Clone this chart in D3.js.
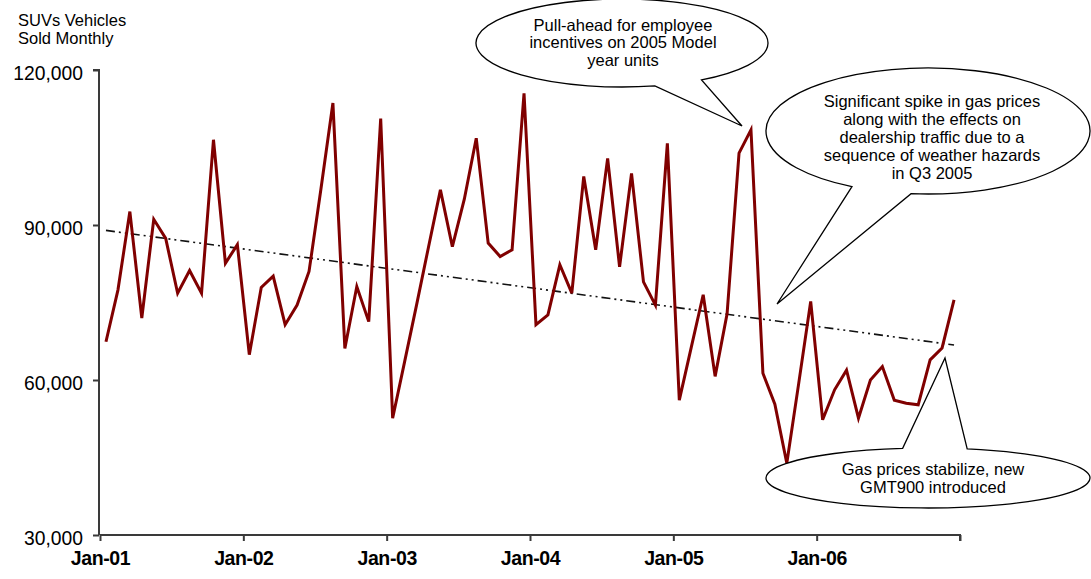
<!DOCTYPE html>
<html>
<head>
<meta charset="utf-8">
<script src="https://cdn.jsdelivr.net/npm/d3@7"></script>
<style>
  html, body { margin: 0; padding: 0; background: #fff; }
  svg { display: block; }
  text { font-family: "Liberation Sans", Arial, sans-serif; fill: #000; }
</style>
</head>
<body>
<svg id="chart" width="1091" height="579"></svg>
<script>
// Monthly SUV sales, Jan 2001 – Dec 2006
const years = ["01", "02", "03", "04", "05", "06"];
const tickLabels = ["Jan-01", "Jan-02", "Jan-03", "Jan-04", "Jan-05", "Jan-06", ""];
const yTicks = [30000, 60000, 90000, 120000];

const sales2001 = [67400, 77400, 92600, 72000, 91100, 87400, 76800, 81200, 76800, 106500, 82600, 86200];
const sales2002 = [64900, 77900, 80100, 70700, 74500, 81000, 97000, 113600, 66100, 78100, 71300, 110600];
const sales2003 = [52600, 63500, 74500, 85700, 96800, 85800, 95000, 106800, 86500, 83900, 85200, 115500];
const sales2004 = [70700, 72600, 82300, 76800, 99400, 85200, 102900, 81900, 100000, 79000, 74500, 105800];
const sales2005 = [56100, 66300, 76500, 60700, 72800, 103900, 108400, 61300, 55300, 43900, 59400, 75200];
const sales2006 = [52300, 58100, 61900, 52600, 60000, 62600, 56100, 55500, 55200, 63900, 66200, 75500];

const sales = [].concat(sales2001, sales2002, sales2003, sales2004, sales2005, sales2006);

const svg = d3.select("#chart");

const x = d3.scaleLinear().domain([0, sales.length]).range([100, 960]);
const y = d3.scaleLinear().domain([30000, 120000]).range([535, 70]);
const px = i => x(i + 0.5);

// axis title
const title = svg.append("text").attr("x", 18).attr("font-size", 16.5);
title.append("tspan").attr("x", 18).attr("y", 26).text("SUVs Vehicles");
title.append("tspan").attr("x", 18).attr("y", 44).text("Sold Monthly");

// y axis
const yAxis = svg.append("g")
  .attr("transform", "translate(99,0)")
  .call(d3.axisLeft(y).tickValues(yTicks).tickFormat(d3.format(",")).tickSize(6).tickPadding(10));
yAxis.selectAll("path, line").attr("stroke", "#3a3a3a").attr("stroke-width", 2);
yAxis.select(".domain").attr("d", "M-6,70H0V535");
yAxis.selectAll("text")
  .attr("font-size", 19.3).attr("font-family", "Liberation Sans, Arial, sans-serif")
  .attr("fill", "#000").attr("dy", "0.47em");

// x axis
const xAxis = svg.append("g")
  .attr("transform", "translate(0,535)")
  .call(d3.axisBottom(x).tickValues(d3.range(0, sales.length + 1, 12))
    .tickFormat((d, i) => tickLabels[i]).tickSize(6).tickPadding(20));
xAxis.selectAll("path, line").attr("stroke", "#3a3a3a").attr("stroke-width", 2);
xAxis.select(".domain").attr("d", "M100,0H960V6");
xAxis.selectAll("text")
  .attr("font-size", 19.5).attr("font-weight", "bold")
  .attr("font-family", "Liberation Sans, Arial, sans-serif")
  .attr("fill", "#000").attr("letter-spacing", -0.4).attr("dy", "0.2em");

// linear trend (least squares over the monthly series)
const n = sales.length;
const mx = d3.mean(d3.range(n));
const my = d3.mean(sales);
const slope = d3.sum(sales, (v, i) => (i - mx) * (v - my)) / d3.sum(d3.range(n), i => (i - mx) * (i - mx));
const icpt = my - slope * mx;
svg.append("line")
  .attr("x1", px(0)).attr("y1", y(icpt))
  .attr("x2", px(n - 1)).attr("y2", y(icpt + slope * (n - 1)))
  .attr("stroke", "#111").attr("stroke-width", 1.6)
  .attr("stroke-dasharray", "9,4,2,4,2,4");

// sales line
svg.append("path")
  .datum(sales)
  .attr("fill", "none")
  .attr("stroke", "#800000")
  .attr("stroke-width", 3)
  .attr("stroke-linejoin", "miter")
  .attr("d", d3.line().x((d, i) => px(i)).y(d => y(d)));

// speech-bubble callouts: ellipse body opened between two angles, joined to a pointer tip
function callout(c) {
  const rad = a => a * Math.PI / 180;
  const p = a => [c.cx + c.rx * Math.cos(rad(a)), c.cy + c.ry * Math.sin(rad(a))];
  const b1 = p(c.a1), b2 = p(c.a2);
  const path = `M${b1[0]},${b1[1]} A${c.rx},${c.ry} 0 1 0 ${b2[0]},${b2[1]} L${c.tip[0]},${c.tip[1]} Z`;
  const g = svg.append("g");
  g.append("path").attr("d", path)
    .attr("fill", "#fff").attr("stroke", "#000").attr("stroke-width", 1.3)
    .attr("stroke-linejoin", "miter");
  const t = g.append("text").attr("text-anchor", "middle").attr("font-size", 16.5);
  c.lines.forEach((s, k) => {
    t.append("tspan").attr("x", c.tx).attr("y", c.ty + k * c.lh).text(s);
  });
}

callout({
  cx: 622, cy: 43, rx: 146, ry: 44, a1: 57, a2: 77, tip: [742, 126],
  tx: 623, ty: 31, lh: 17.3,
  lines: ["Pull-ahead for employee", "incentives on 2005 Model", "year units"]
});
callout({
  cx: 928, cy: 131, rx: 162, ry: 63, a1: 96, a2: 118, tip: [777, 304],
  tx: 932, ty: 107, lh: 18,
  lines: ["Significant spike in gas prices", "along with the effects on",
          "dealership traffic due to a", "sequence of weather hazards", "in Q3 2005"]
});
callout({
  cx: 928, cy: 478, rx: 162, ry: 30, a1: -99, a2: -76, tip: [945, 358],
  tx: 933, ty: 475, lh: 17.7,
  lines: ["Gas prices stabilize, new", "GMT900 introduced"]
});
</script>
</body>
</html>
